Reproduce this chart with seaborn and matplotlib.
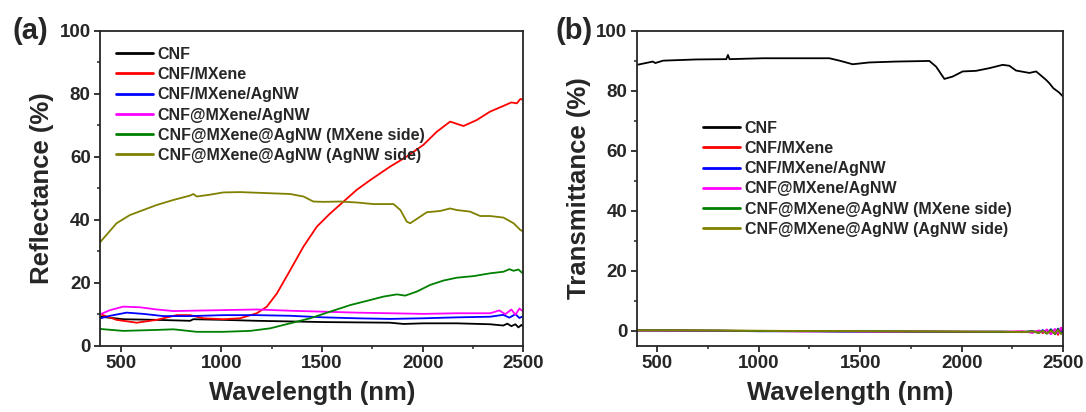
import matplotlib
matplotlib.use("Agg")
import matplotlib.pyplot as plt
import seaborn as sns
from matplotlib.ticker import MultipleLocator

sns.set_style("ticks")
plt.rcParams["font.family"] = ["Liberation Sans", "DejaVu Sans"]
plt.rcParams["font.weight"] = "bold"
plt.rcParams["axes.labelweight"] = "bold"

labels = ["CNF", "CNF/MXene", "CNF/MXene/AgNW", "CNF@MXene/AgNW",
          "CNF@MXene@AgNW (MXene side)", "CNF@MXene@AgNW (AgNW side)"]
colors = ["black", "red", "blue", "magenta", "green", "olive"]

# (a) reflectance, values
wl_cnf = [400, 513, 679, 845, 861, 1010, 1176, 1342, 1507, 1672, 1838, 1905, 2003, 2169,
          2335, 2400, 2420, 2440, 2460, 2475, 2490, 2500]
r_cnf = [9.2, 8.4, 8.2, 7.9, 8.4, 8.2, 7.9, 7.7, 7.5, 7.4, 7.3, 6.9, 7.1, 7.1,
         6.8, 6.4, 7.0, 6.2, 6.8, 5.8, 6.6, 6.0]

wl_mx = [400, 480, 580, 679, 778, 845, 911, 1010, 1093, 1176, 1226, 1276, 1342, 1408, 1474,
         1540, 1607, 1672, 1739, 1838, 1921, 2003, 2070, 2136, 2202, 2268, 2335, 2401,
         2440, 2467, 2485, 2500]
r_mx = [10.0, 8.2, 7.3, 8.2, 9.7, 9.7, 8.7, 8.4, 8.7, 10.3, 12.4, 16.6, 24.0, 31.5, 37.8,
        42.0, 45.8, 49.5, 52.6, 56.9, 60.1, 63.8, 68.0, 71.2, 69.8, 71.7, 74.4, 76.2,
        77.3, 77.0, 78.4, 78.1]

wl_mxag = [400, 448, 530, 613, 712, 845, 1010, 1176, 1342, 1507, 1672, 1838, 2003, 2169,
           2335, 2400, 2430, 2460, 2480, 2500]
r_mxag = [8.7, 9.5, 10.5, 10.1, 9.4, 9.4, 9.7, 9.7, 9.5, 9.0, 8.7, 8.5, 8.7, 9.0,
          9.2, 9.8, 8.9, 10.0, 8.8, 9.4]

wl_at = [400, 448, 513, 596, 679, 762, 845, 1010, 1176, 1342, 1507, 1672, 1838, 2003,
         2169, 2335, 2380, 2410, 2440, 2460, 2480, 2500]
r_at = [10.0, 11.3, 12.4, 12.2, 11.5, 11.0, 11.1, 11.3, 11.5, 11.1, 10.8, 10.5, 10.3, 10.1,
        10.3, 10.3, 11.2, 10.0, 11.5, 9.8, 11.8, 10.8]

wl_ms = [400, 513, 679, 762, 878, 1010, 1143, 1242, 1342, 1441, 1540, 1640, 1739, 1805,
         1872, 1913, 1971, 2037, 2103, 2169, 2252, 2335, 2401, 2430, 2451, 2475, 2500]
r_ms = [5.3, 4.7, 5.0, 5.2, 4.4, 4.4, 4.7, 5.5, 7.1, 8.7, 10.8, 12.9, 14.5, 15.6,
        16.3, 15.9, 17.2, 19.3, 20.7, 21.6, 22.1, 23.0, 23.5, 24.3, 23.8, 24.2, 22.8]

wl_as = [400, 480, 546, 679, 762, 845, 861, 878, 936, 1010, 1093, 1176, 1258, 1341, 1408,
         1457, 1507, 1590, 1672, 1755, 1855, 1889, 1921, 1938, 1971, 2020, 2086, 2136,
         2169, 2235, 2285, 2335, 2401, 2451, 2484, 2500]
r_as = [33.0, 38.9, 41.5, 44.7, 46.3, 47.7, 48.2, 47.4, 47.9, 48.7, 48.8, 48.6, 48.4, 48.2, 47.4,
        45.8, 45.7, 45.8, 45.5, 45.0, 45.0, 43.1, 39.4, 38.9, 40.3, 42.4, 42.8, 43.6,
        43.1, 42.6, 41.2, 41.2, 40.7, 38.9, 36.8, 36.2]

# (b) transmittance
wl_t_cnf = [400, 478, 490, 528, 692, 840, 848, 856, 1020, 1184, 1348, 1398, 1463, 1545, 1677,
            1841, 1874, 1915, 1956, 2005, 2071, 2137, 2202, 2235, 2268, 2334, 2367, 2383,
            2416, 2432, 2452, 2480, 2500]
t_cnf = [88.7, 89.8, 89.3, 90.1, 90.5, 90.6, 92.0, 90.6, 90.9, 90.9, 90.9, 90.1, 88.9, 89.5, 89.8,
         90.0, 88.1, 84.0, 84.8, 86.5, 86.7, 87.6, 88.7, 88.4, 86.8, 86.0, 86.5, 85.6,
         83.7, 82.6, 80.9, 79.5, 78.1]

wl_t_low = [400, 600, 800, 1000, 1200, 1400, 1600, 1800, 2000, 2200, 2300, 2350, 2380,
            2400, 2420, 2440, 2460, 2475, 2490, 2500]
t_mx = [0.1, 0.1, 0.0, -0.1, -0.2, -0.2, -0.3, -0.3, -0.4, -0.4, -0.3, -0.6, 0.0, -0.8,
        0.2, -1.0, 0.4, -1.4, 0.9, -0.5]
t_mxag = [0.1, 0.0, 0.0, -0.2, -0.2, -0.3, -0.3, -0.3, -0.4, -0.3, -0.5, -0.1, -0.7, 0.2,
          -0.9, 0.5, -1.1, 0.7, -0.8, 0.2]
t_at = [0.0, 0.0, -0.1, -0.1, -0.2, -0.2, -0.3, -0.3, -0.3, -0.4, -0.2, -0.7, 0.1, -0.6,
        0.4, -1.2, 0.6, -0.9, 1.0, 0.0]
t_ms = [0.1, 0.1, 0.0, -0.1, -0.1, -0.2, -0.2, -0.3, -0.3, -0.4, -0.4, -0.2, -0.8, 0.0,
        -1.0, 0.3, -1.2, 0.5, -1.0, -0.4]
t_as = [0.1, 0.1, 0.1, 0.0, -0.1, -0.1, -0.2, -0.2, -0.3, -0.3, -0.5, -0.2, -0.7, -0.1,
        -0.9, 0.0, -1.0, 0.2, -1.1, -0.6]

refl = [(wl_cnf, r_cnf), (wl_mx, r_mx), (wl_mxag, r_mxag), (wl_at, r_at), (wl_ms, r_ms), (wl_as, r_as)]
trans = [(wl_t_cnf, t_cnf), (wl_t_low, t_mx), (wl_t_low, t_mxag), (wl_t_low, t_at),
         (wl_t_low, t_ms), (wl_t_low, t_as)]

fig = plt.figure(figsize=(10.86, 4.12), dpi=100)
ax1 = fig.add_axes([0.0925, 0.161, 0.3895, 0.7638])
ax2 = fig.add_axes([0.5866, 0.161, 0.3923, 0.7638])

for ax, data, ylab, ylim, anchor in [
        (ax1, refl, "Reflectance (%)", (0, 100), (0.037, 0.95)),
        (ax2, trans, "Transmittance (%)", (-5, 100), (0.155, 0.715))]:
    for (x, y), lab, c in zip(data, labels, colors):
        sns.lineplot(x=x, y=y, ax=ax, color=c, label=lab, linewidth=1.3)
    ax.set_xlim(400, 2500)
    ax.set_ylim(*ylim)
    ax.xaxis.set_major_locator(MultipleLocator(500))
    ax.xaxis.set_minor_locator(MultipleLocator(250))
    ax.yaxis.set_major_locator(MultipleLocator(20))
    ax.yaxis.set_minor_locator(MultipleLocator(10))
    ax.tick_params(which="major", direction="out", length=4, width=1.3, labelsize=13.5, pad=3)
    ax.tick_params(which="minor", direction="out", length=2.5, width=1.1)
    for lbl in ax.get_xticklabels() + ax.get_yticklabels():
        lbl.set_fontweight("bold")
    for sp in ax.spines.values():
        sp.set_visible(True)
        sp.set_linewidth(1.3)
    ax.set_xlabel("Wavelength (nm)", fontsize=18.5, fontweight="bold", labelpad=6)
    ax.set_ylabel(ylab, fontsize=18.5, fontweight="bold", labelpad=4)
    leg = ax.legend(loc="upper left", bbox_to_anchor=anchor, frameon=False, fontsize=11.5,
                    handlelength=2.3, handletextpad=0.3, labelspacing=0.33,
                    borderpad=0, borderaxespad=0)
    for t in leg.get_texts():
        t.set_fontweight("bold")
    for h in leg.get_lines():
        h.set_linewidth(2)

fig.text(0.028, 0.925, "(a)", fontsize=21, fontweight="bold", ha="center", va="center")
fig.text(0.529, 0.925, "(b)", fontsize=21, fontweight="bold", ha="center", va="center")

fig.savefig("out.png", dpi=100)
